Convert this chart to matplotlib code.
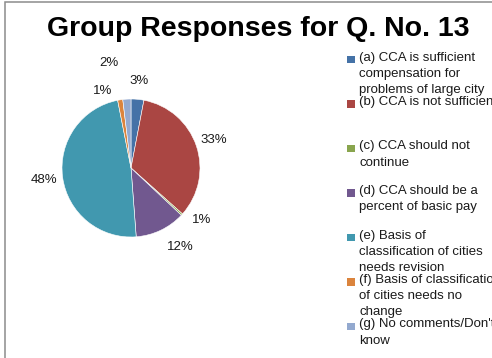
import matplotlib
matplotlib.use("Agg")
import matplotlib.pyplot as plt
from matplotlib.patches import Rectangle

plt.rcParams['font.family'] = ['Liberation Sans', 'DejaVu Sans']

# data
categories = [
    "(a) CCA is sufficient\ncompensation for\nproblems of large city",
    "(b) CCA is not sufficient",
    "(c) CCA should not\ncontinue",
    "(d) CCA should be a\npercent of basic pay",
    "(e) Basis of\nclassification of cities\nneeds revision",
    "(f) Basis of classification\nof cities needs no\nchange",
    "(g) No comments/Don't\nknow",
]
shares = [3, 33.6, 0.4, 11.8, 48.1, 1.2, 1.9]
pct_labels = ["3%", "33%", "1%", "12%", "48%", "1%", "2%"]
colors = ["#4572A7", "#AA4643", "#89A54E", "#71588F", "#4198AF", "#DB843D", "#93A9CF"]

W, H = 492, 358
fig = plt.figure(figsize=(W / 100, H / 100), dpi=100)

# chart frame (Excel style, cut at right/bottom)
fig.patches.append(Rectangle((5 / W, -0.1), 1.2, (H - 2) / H + 0.1, transform=fig.transFigure,
                             fill=False, edgecolor="#8c8c8c", linewidth=1.1))

fig.text(258 / W, 1 - 36 / H, "Group Responses for Q. No. 13", ha="center", va="baseline",
         fontsize=20.5, fontweight="bold")

# pie: centre (131,168) px, radius 69 px
r = 69
ax = fig.add_axes([(131 - 2 * r) / W, (H - 168 - 2 * r) / H, 4 * r / W, 4 * r / H])
wedges, texts = ax.pie(shares, colors=colors, startangle=90, counterclock=False,
                       labels=pct_labels, labeldistance=1.27,
                       wedgeprops=dict(edgecolor="white", linewidth=0.4))
ax.set_xlim(-2, 2)
ax.set_ylim(-2, 2)
ax.axis("off")
for t in texts:
    t.set_ha("center")
    t.set_va("center")
    t.set_fontsize(9.5)
    t.set_color("#1a1a1a")
# labels nudged apart like Excel does
texts[2].set_position((1.03, -0.76))
texts[3].set_position((0.72, -1.14))
texts[5].set_position((-0.41, 1.12))
texts[6].set_position((-0.32, 1.52))

# legend, drawn by hand (entries evenly spaced, text wraps over)
for i, (lab, c) in enumerate(zip(categories, colors)):
    base = 63 + 44.5 * i
    fig.patches.append(Rectangle((347 / W, 1 - base / H), 7.5 / W, 7.5 / H,
                                 transform=fig.transFigure, facecolor=c, edgecolor="none"))
    fig.text(359 / W, 1 - (base - 11.5) / H, lab, ha="left", va="top", fontsize=9.5,
             linespacing=1.45, color="#1a1a1a")

plt.savefig("out.png", dpi=100)
